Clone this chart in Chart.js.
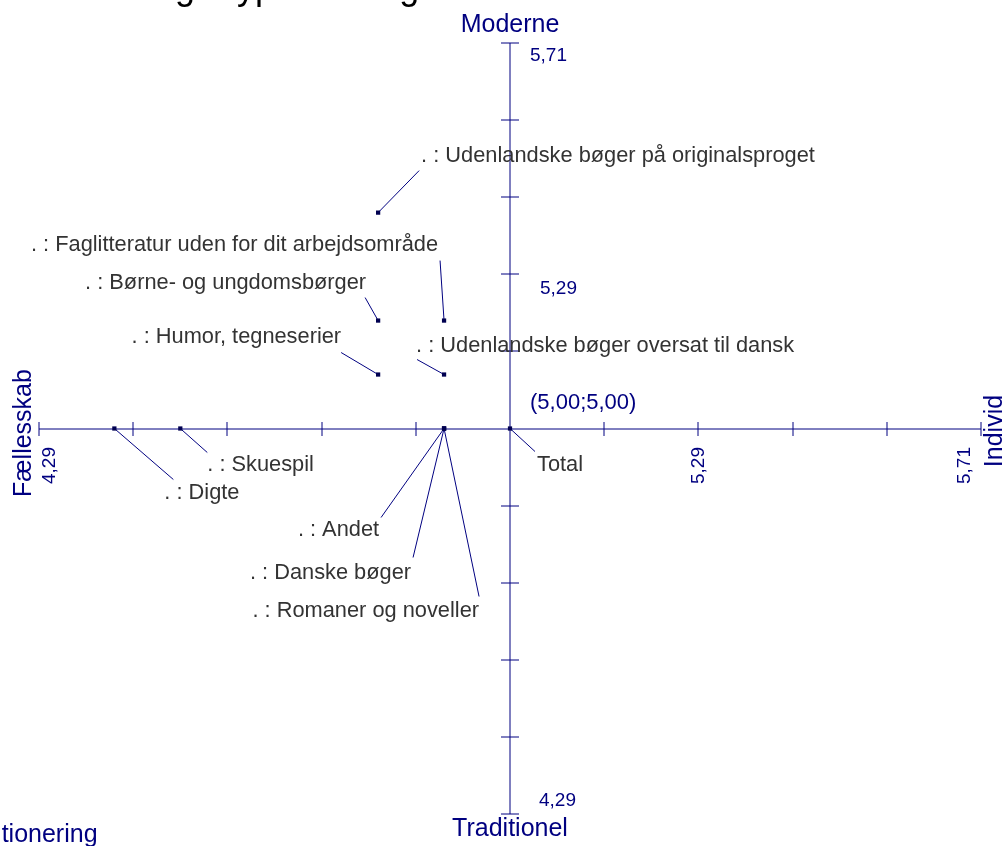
<!DOCTYPE html>
<html>
<head>
<meta charset="utf-8">
<script src="https://cdn.jsdelivr.net/npm/chart.js@4/dist/chart.umd.min.js"></script>
<style>
  html, body { margin: 0; padding: 0; background: #fff; }
  #wrap { width: 1006px; height: 846px; position: relative; }
</style>
</head>
<body>
<div id="wrap"><canvas id="chart"></canvas></div>
<script>
// bogtyper placeret på Individ (x) og Moderne (y)
const categories = [
  'Udenlandske bøger på originalsproget',
  'Faglitteratur uden for dit arbejdsområde',
  'Børne- og ungdomsbørger',
  'Humor, tegneserier',
  'Udenlandske bøger oversat til dansk',
  'Skuespil',
  'Digte',
  'Andet',
  'Danske bøger',
  'Romaner og noveller',
  'Total',
];
const individValues = [4.80, 4.90, 4.80, 4.80, 4.90, 4.50, 4.40, 4.90, 4.90, 4.90, 5.00];
const moderneValues = [5.40, 5.20, 5.20, 5.10, 5.10, 5.00, 5.00, 5.00, 5.00, 5.00, 5.00];

const axisMin = 4.2857;
const axisMax = 5.7143;
const tickValues = [4.2857, 4.4286, 4.5714, 4.7143, 4.8571, 5.0, 5.1429, 5.2857, 5.4286, 5.5714, 5.7143];
const xTickValues = [4.2857, 5.2857, 5.7143];
const xTickLabels = ['4,29', '5,29', '5,71'];
const yTickValues = [5.7143, 5.2857, 4.2857];
const yTickLabels = ['5,71', '5,29', '4,29'];
const centre = [5.0, 5.0];
const centreLabel = '(5,00;5,00)';

const title = 'Læsning - typer af bøger';
const footer = 'Positionering';
const axisTitles = { top: 'Moderne', bottom: 'Traditionel', left: 'Fællesskab', right: 'Individ' };

// leader line end (dx, dy), text anchor (dx, dy), alignment - pixels from the point
const labelLayout = [
  [41, -42, 43, -57, 'left'],
  [-4, -60, -6, -76, 'right'],
  [-13, -23, -12, -38, 'right'],
  [-37, -22, -37, -38, 'right'],
  [-27, -15, -28, -29, 'left'],
  [27, 24, 27, 36, 'left'],
  [59, 51, 50, 64, 'left'],
  [-63, 89, -65, 101, 'right'],
  [-31, 129, -33, 144, 'right'],
  [35, 168, 35, 182, 'right'],
  [25, 23, 27, 36, 'left'],
];

const NAVY = '#000080';
const TEXT = '#333333';
const FONT = '"Liberation Sans", Arial, sans-serif';

const axesPlugin = {
  id: 'crossAxes',
  beforeDatasetsDraw(chart) {
    const ctx = chart.ctx;
    const xs = chart.scales.x, ys = chart.scales.y;
    const cx = Math.round(xs.getPixelForValue(centre[0]));
    const cy = Math.round(ys.getPixelForValue(centre[1]));
    const left = xs.getPixelForValue(axisMin), right = xs.getPixelForValue(axisMax);
    const top = ys.getPixelForValue(axisMax), bottom = ys.getPixelForValue(axisMin);
    ctx.save();
    ctx.strokeStyle = NAVY;
    ctx.lineWidth = 1;
    ctx.beginPath();
    ctx.moveTo(left, cy); ctx.lineTo(right, cy);
    ctx.moveTo(cx, top); ctx.lineTo(cx, bottom);
    tickValues.forEach(v => {
      if (v === centre[0]) return;
      const px = Math.round(xs.getPixelForValue(v));
      ctx.moveTo(px, cy - 7); ctx.lineTo(px, cy + 7);
      const py = Math.round(ys.getPixelForValue(v));
      ctx.moveTo(cx - 9, py); ctx.lineTo(cx + 9, py);
    });
    ctx.stroke();

    // leader lines
    ctx.beginPath();
    categories.forEach((c, i) => {
      const px = xs.getPixelForValue(individValues[i]);
      const py = ys.getPixelForValue(moderneValues[i]);
      const l = labelLayout[i];
      ctx.moveTo(px, py);
      ctx.lineTo(px + l[0], py + l[1]);
    });
    ctx.stroke();

    // labels
    ctx.fillStyle = TEXT;
    ctx.font = '21.8px ' + FONT;
    ctx.textBaseline = 'middle';
    categories.forEach((c, i) => {
      const px = xs.getPixelForValue(individValues[i]);
      const py = ys.getPixelForValue(moderneValues[i]);
      const l = labelLayout[i];
      ctx.textAlign = l[4];
      const txt = c === 'Total' ? c : '. : ' + c;
      ctx.fillText(txt, px + l[2], py + l[3]);
    });

    // tick labels
    ctx.fillStyle = NAVY;
    ctx.font = '19px ' + FONT;
    const yOff = [[20, 13], [30, 14], [29, -13]];
    ctx.textAlign = 'left';
    yTickValues.forEach((v, i) => {
      const py = ys.getPixelForValue(v);
      ctx.fillText(yTickLabels[i], cx + yOff[i][0], py + yOff[i][1]);
    });
    const xOff = [11, 0, -16];
    xTickValues.forEach((v, i) => {
      const px = xs.getPixelForValue(v);
      ctx.save();
      ctx.translate(px + xOff[i], cy + 18);
      ctx.rotate(-Math.PI / 2);
      ctx.textAlign = 'right';
      ctx.fillText(xTickLabels[i], 0, 0);
      ctx.restore();
    });

    ctx.font = '22px ' + FONT;
    ctx.textAlign = 'left';
    ctx.fillText(centreLabel, cx + 20, cy - 26);

    // axis titles
    ctx.font = '25px ' + FONT;
    ctx.textAlign = 'center';
    ctx.fillText(axisTitles.top, cx, top - 18);
    ctx.fillText(axisTitles.bottom, cx, bottom + 15);
    ctx.save();
    ctx.translate(24, cy + 4);
    ctx.rotate(-Math.PI / 2);
    ctx.fillText(axisTitles.left, 0, 0);
    ctx.restore();
    ctx.save();
    ctx.translate(995, cy + 2);
    ctx.rotate(-Math.PI / 2);
    ctx.fillText(axisTitles.right, 0, 0);
    ctx.restore();

    // title and footer, cut by the page edge like the original
    ctx.textAlign = 'left';
    ctx.textBaseline = 'alphabetic';
    ctx.fillStyle = '#000';
    ctx.font = '36px ' + FONT;
    ctx.fillText(title, 57, -1);
    ctx.fillStyle = NAVY;
    ctx.font = '25px ' + FONT;
    ctx.fillText(footer, -47, 842);
    ctx.restore();
  }
};

new Chart(document.getElementById('chart'), {
  type: 'scatter',
  data: {
    datasets: [{
      label: 'Bogtyper',
      data: categories.map((c, i) => ({ x: individValues[i], y: moderneValues[i] })),
      pointStyle: 'rect',
      pointRadius: 3,
      backgroundColor: '#000050',
      borderColor: '#000050',
      borderWidth: 0,
    }],
  },
  options: {
    responsive: true,
    maintainAspectRatio: false,
    animation: false,
    layout: { padding: { left: 39, right: 25, top: 43, bottom: 32 } },
    scales: {
      x: { type: 'linear', min: axisMin, max: axisMax, display: false },
      y: { type: 'linear', min: axisMin, max: axisMax, display: false },
    },
    plugins: { legend: { display: false }, tooltip: { enabled: false } },
  },
  plugins: [axesPlugin],
});
</script>
</body>
</html>
